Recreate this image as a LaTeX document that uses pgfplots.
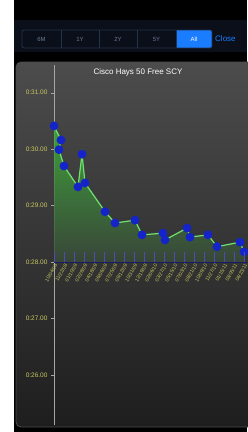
\documentclass[border=0pt]{standalone}
\usepackage{fontspec}
\setmainfont{Liberation Sans}
\usepackage{pgfplots}
\pgfplotsset{compat=1.18}
\definecolor{toolbar}{HTML}{0A0F1A}
\definecolor{segline}{HTML}{24324A}
\definecolor{segtext}{HTML}{6A7A92}
\definecolor{selblue}{HTML}{1A7CFF}
\definecolor{paneltop}{HTML}{4C4C4C}
\definecolor{panelbot}{HTML}{1E1E1E}
\definecolor{labyellow}{HTML}{C8C860}
\definecolor{linegreen}{HTML}{70E070}
\definecolor{dotblue}{HTML}{1424C8}
\definecolor{fillgreen}{HTML}{3EB03A}
\definecolor{fillbot}{HTML}{3A4A3A}
\begin{document}
\begin{tikzpicture}
\useasboundingbox (0,0) rectangle (247pt,-432pt);
\fill[black] (0,0) rectangle (247pt,-432pt);
\fill[white] (0,0) rectangle (14pt,-432pt);
% toolbar
\fill[toolbar] (14pt,-20pt) rectangle (247pt,-52pt);
\fill[selblue] (176pt,-30pt) rectangle (212pt,-48pt);
\draw[segline, line width=0.8pt, rounded corners=2pt] (22pt,-30pt) rectangle (212pt,-48pt);
\foreach \s in {61,99,137,176} \draw[segline, line width=0.8pt] (\s pt,-30pt) -- (\s pt,-48pt);
\foreach \c/\t in {41.5/6M,80/1Y,118/2Y,156.5/5Y} \node[text=segtext, font=\fontsize{6}{7}\selectfont] at (\c pt,-39pt) {\t};
\node[text=white, font=\fontsize{6}{7}\selectfont] at (194pt,-39pt) {All};
\node[text=selblue, font=\fontsize{8}{9}\selectfont, anchor=west, inner sep=0pt] at (215pt,-39pt) {Close};
% panel
\shade[top color=paneltop, bottom color=panelbot, rounded corners=5pt] (16pt,-62pt) rectangle (262pt,-427pt);
\draw[gray!60!black, line width=0.8pt, rounded corners=5pt] (16pt,-62pt) rectangle (262pt,-427pt);
\node[text=white, font=\fontsize{8}{9}\selectfont] at (138pt,-72pt) {Cisco Hays 50 Free SCY};
% data axis
\begin{axis}[at={(54pt,-425pt)}, anchor=south west, scale only axis,
  width=193pt, height=360pt,
  xmin=54, xmax=247, ymin=25.11, ymax=31.49,
  axis x line=none, axis y line*=left,
  y axis line style={draw=gray!70, line width=1pt},
  ytick={26,27,28,29,30,31},
  yticklabels={0:26.00,0:27.00,0:28.00,0:29.00,0:30.00,0:31.00},
  yticklabel style={font=\fontsize{6.5}{7}\selectfont, text=labyellow},
  ytick style={draw=gray!70},
  major tick length=3pt, tick align=outside]
\addplot[draw=none, top color=fillgreen, bottom color=fillbot, fill opacity=0.85] coordinates {
(54,28) (54,30.41) (61,30.16) (59,29.99) (64,29.70) (78,29.33) (82,29.91) (85,29.40)
(105,28.89) (115,28.69) (135,28.74) (142,28.48) (163,28.51) (165,28.39) (187,28.60)
(190,28.44) (208,28.48) (217,28.27) (240,28.35) (244,28.18) (244,28)};
\addplot[color=linegreen, line width=1.2pt, mark=*, mark size=3.8pt,
  mark options={draw=dotblue, fill=dotblue}] coordinates {
(54,30.41) (61,30.16) (59,29.99) (64,29.70) (78,29.33) (82,29.91) (85,29.40)
(105,28.89) (115,28.69) (135,28.74) (142,28.48) (163,28.51) (165,28.39) (187,28.60)
(190,28.44) (208,28.48) (217,28.27) (240,28.35) (244,28.18)};
\end{axis}
% date axis at baseline
\begin{axis}[at={(54pt,-262pt)}, anchor=south west, scale only axis,
  width=193pt, height=40pt,
  xmin=54, xmax=247, ymin=0, ymax=1,
  hide y axis, axis x line*=bottom,
  x axis line style={draw=gray!40!blue!50!black, line width=0.6pt},
  xtick={54,64,...,244},
  xticklabels={10/04/08,11/22/08,01/10/09,02/28/09,04/18/09,06/06/09,07/25/09,09/12/09,10/31/09,12/19/09,02/06/10,03/27/10,05/15/10,07/03/10,08/21/10,10/09/10,11/27/10,01/15/11,03/05/11,04/23/11},
  xticklabel style={rotate=60, anchor=north east, font=\fontsize{5}{6}\selectfont, text=labyellow, inner sep=1pt},
  xtick style={draw=blue!40!gray, line width=0.8pt},
  major tick length=10pt, tick align=inside]
\end{axis}
\end{tikzpicture}
\end{document}
